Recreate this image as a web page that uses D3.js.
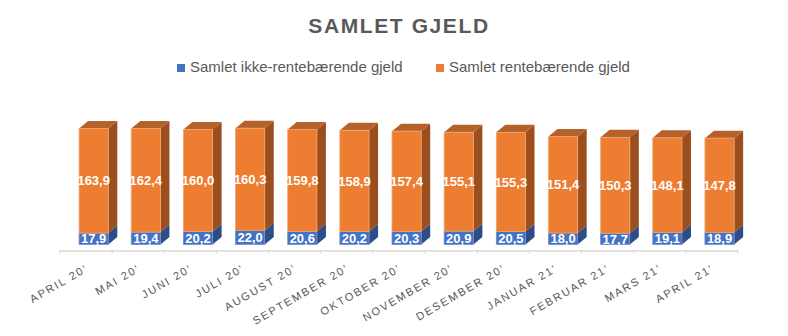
<!DOCTYPE html>
<html>
<head>
<meta charset="utf-8">
<script src="https://cdn.jsdelivr.net/npm/d3@7"></script>
<style>
  html, body { margin: 0; padding: 0; background: #fff; }
  svg { display: block; }
</style>
</head>
<body>
<svg id="chart" width="788" height="336"></svg>
<script>
// Monthly totals (NOK mill.)
const months = ["APRIL 20’", "MAI 20’", "JUNI 20’", "JULI 20’", "AUGUST 20’", "SEPTEMBER 20’",
  "OKTOBER 20’", "NOVEMBER 20’", "DESEMBER 20’", "JANUAR 21’", "FEBRUAR 21’", "MARS 21’", "APRIL 21’"];
const ikkeRentebaerende = [17.9, 19.4, 20.2, 22.0, 20.6, 20.2, 20.3, 20.9, 20.5, 18.0, 17.7, 19.1, 18.9];
const rentebaerende = [163.9, 162.4, 160.0, 160.3, 159.8, 158.9, 157.4, 155.1, 155.3, 151.4, 150.3, 148.1, 147.8];
const seriesNames = ["Samlet ikke-rentebærende gjeld", "Samlet rentebærende gjeld"];

const svg = d3.select("#chart");
const W = 788;
const textGray = "#595959";
const font = "'Liberation Sans', Arial, sans-serif";

// Face colours for the 3D columns: front, side, top
const palette = [
  { front: "#4472C4", side: "#2E4C85", top: "#3A63AD", edge: "#6F93D3" },
  { front: "#ED7D31", side: "#9C4F1E", top: "#B5612A", edge: "#F3A46E" }
];

const nf = d3.formatLocale({ decimal: ",", thousands: " ", grouping: [3], currency: ["", ""] }).format(".1f");

const x = d3.scaleBand().domain(months).range([60, 738]).padding(0);
const floorY = 244.5;
const y = d3.scaleLinear().domain([0, 200]).range([floorY, floorY - 200 * 0.638]);

const bw = x.bandwidth();
const faceW = bw * 0.56;
const shift = bw * 0.146;
const dx = 9, dy = 7.5;

// Title
svg.append("text")
  .attr("x", 399).attr("y", 33)
  .attr("text-anchor", "middle")
  .attr("font-family", font).attr("font-weight", "bold")
  .attr("font-size", 21).attr("letter-spacing", 1.6)
  .attr("fill", textGray)
  .text("SAMLET GJELD");

// Legend
const legendPos = [177, 436];
seriesNames.forEach((name, i) => {
  const g = svg.append("g").attr("transform", `translate(${legendPos[i]},0)`);
  g.append("rect").attr("x", 0).attr("y", 64).attr("width", 8).attr("height", 8)
    .attr("fill", palette[i].front);
  g.append("text").attr("x", 13).attr("y", 72)
    .attr("font-family", font).attr("font-size", 15).attr("fill", textGray)
    .text(name);
});

// Category axis line and ticks
const axisY = 251;
svg.append("line")
  .attr("x1", 60).attr("x2", 738).attr("y1", axisY).attr("y2", axisY)
  .attr("stroke", "#D9D9D9").attr("stroke-width", 1.3);
const boundaries = months.map(m => x(m)).concat([x.range()[1]]);
svg.selectAll(".tick").data(boundaries).enter().append("line")
  .attr("x1", d => d).attr("x2", d => d)
  .attr("y1", axisY - 1).attr("y2", axisY + 3)
  .attr("stroke", "#D9D9D9").attr("stroke-width", 1);

// Category labels, rotated
svg.selectAll(".xlab").data(months).enter().append("text")
  .attr("transform", d => `translate(${x(d) + bw / 2 + 3},${270.5}) rotate(-30)`)
  .attr("text-anchor", "end")
  .attr("font-family", font).attr("font-size", 11)
  .attr("letter-spacing", 1.8)
  .attr("fill", textGray)
  .text(d => d);

// 3D stacked columns
function drawBox(g, x0, yTop, yBot, c, drawTop) {
  const x1 = x0 + faceW;
  // side face
  g.append("path")
    .attr("d", `M${x1},${yBot} L${x1 + dx},${yBot - dy} L${x1 + dx},${yTop - dy} L${x1},${yTop} Z`)
    .attr("fill", c.side);
  if (drawTop) {
    g.append("path")
      .attr("d", `M${x0},${yTop} L${x0 + dx},${yTop - dy} L${x1 + dx},${yTop - dy} L${x1},${yTop} Z`)
      .attr("fill", c.top);
  }
  // front face
  g.append("rect")
    .attr("x", x0).attr("y", yTop).attr("width", faceW).attr("height", yBot - yTop)
    .attr("fill", c.front)
    .attr("stroke", c.edge).attr("stroke-width", 0.8);
}

const bars = svg.append("g");
months.forEach((m, i) => {
  const g = bars.append("g");
  const x0 = x(m) + bw / 2 + shift - faceW / 2;
  const a = ikkeRentebaerende[i], b = rentebaerende[i];
  drawBox(g, x0, y(a), y(0), palette[0], false);
  drawBox(g, x0, y(a + b), y(a), palette[1], true);

  const cx = x0 + faceW / 2;
  [[a, (y(0) + y(a)) / 2], [b, (y(a) + y(a + b)) / 2]].forEach(([v, cy]) => {
    g.append("text")
      .attr("x", cx).attr("y", cy).attr("dy", "0.36em")
      .attr("text-anchor", "middle")
      .attr("font-family", font).attr("font-weight", "bold").attr("font-size", 13)
      .attr("fill", "#fff")
      .text(nf(v));
  });
});
</script>
</body>
</html>
